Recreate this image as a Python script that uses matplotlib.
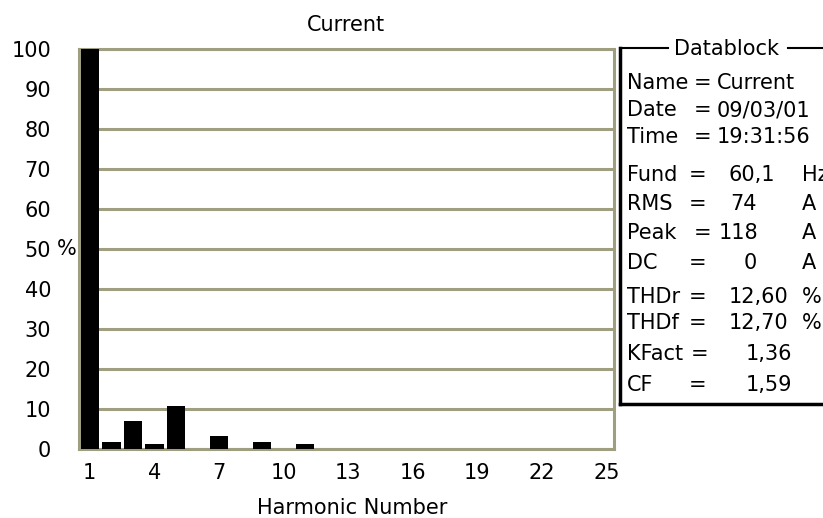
import numpy as np
import matplotlib
matplotlib.use("Agg")
import matplotlib.pyplot as plt
from matplotlib.lines import Line2D

# harmonic spectrum (% of fundamental)
harmonics = np.arange(1, 26)
percent = [100, 1.8, 7.0, 1.2, 10.8, 0, 3.3, 0, 1.8, 0, 1.2, 0, 0,
           0, 0, 0, 0, 0, 0, 0, 0, 0, 0, 0, 0]
xtick_vals = [1, 4, 7, 10, 13, 16, 19, 22, 25]
ytick_vals = list(range(0, 101, 10))

# datablock contents
db_labels = ["Name", "Date", "Time", "Fund", "RMS", "Peak", "DC", "THDr", "THDf", "KFact", "CF"]
db_values = ["Current", "09/03/01", "19:31:56", "60,1", "74", "118", "0", "12,60", "12,70", "1,36", "1,59"]
db_units = ["", "", "", "Hz", "A", "A", "A", "%", "%", "", ""]

W, H = 823, 518
GRID = "#a09e80"
FS = 15

fig = plt.figure(figsize=(W / 100, H / 100), dpi=100)
fig.patch.set_facecolor("white")

def fx(px):
    return px / W

def fy(py):
    return 1 - py / H

ax = fig.add_axes([fx(79), fy(449), fx(614) - fx(79), fy(49) - fy(449)])
ax.bar(harmonics, percent, width=0.86, color="black", zorder=3)
ax.set_xlim(0.5, 25.35)
ax.set_ylim(0, 100)
ax.set_xticks(xtick_vals)
ax.set_yticks(ytick_vals)
ax.set_yticklabels([str(v) for v in ytick_vals])
ax.tick_params(length=0, labelsize=FS)
ax.tick_params(axis="x", pad=10)
ax.tick_params(axis="y", pad=20)
ax.yaxis.grid(True, color=GRID, linewidth=2.2, zorder=1)
for s in ax.spines.values():
    s.set_color(GRID)
    s.set_linewidth(2.2)

fig.text(fx(346), fy(25), "Current", fontsize=FS, ha="center", va="center")
fig.text(fx(352), fy(508), "Harmonic Number", fontsize=FS, ha="center", va="center")
fig.text(fx(67), fy(249), "%", fontsize=FS, ha="center", va="center")

# datablock box
bx0, by0, by1 = 620, 48, 404
fig.add_artist(Line2D([fx(bx0), fx(bx0)], [fy(by0), fy(by1)], color="black", lw=2.5))
fig.add_artist(Line2D([fx(bx0), fx(W + 5)], [fy(by1), fy(by1)], color="black", lw=2.5))
fig.add_artist(Line2D([fx(bx0), fx(668)], [fy(by0), fy(by0)], color="black", lw=1.5))
fig.add_artist(Line2D([fx(788), fx(W + 5)], [fy(by0), fy(by0)], color="black", lw=1.5))
fig.text(fx(727), fy(49), "Datablock", fontsize=FS, ha="center", va="center")

row_y = [83, 110, 137, 175, 204, 233, 263, 297, 323, 354, 385]
eq_x = [703, 703, 703, 698, 698, 703, 698, 698, 698, 700, 698]
val_left = [True, True, True, False, False, False, False, False, False, False, False]
val_x = [717, 717, 717, 775, 757, 758, 757, 788, 788, 792, 792]
for i, lab in enumerate(db_labels):
    y = fy(row_y[i])
    fig.text(fx(627), y, lab, fontsize=FS, ha="left", va="center")
    fig.text(fx(eq_x[i]), y, "=", fontsize=FS, ha="center", va="center")
    fig.text(fx(val_x[i]), y, db_values[i], fontsize=FS,
             ha="left" if val_left[i] else "right", va="center")
    if db_units[i]:
        fig.text(fx(802), y, db_units[i], fontsize=FS, ha="left", va="center")

fig.savefig("out.png", dpi=100)
